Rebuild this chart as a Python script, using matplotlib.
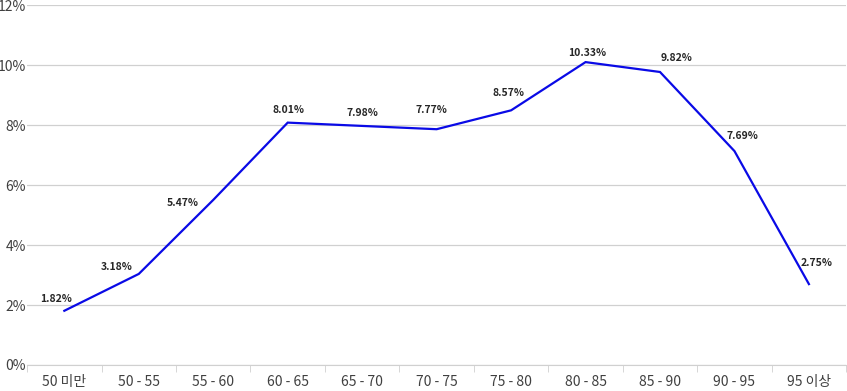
import matplotlib
matplotlib.use('Agg')
import matplotlib.pyplot as plt
import numpy as np
from matplotlib.ticker import FixedLocator

plt.rcParams['font.family'] = ['Noto Sans CJK KR', 'DejaVu Sans']

categories = ['50 미만', '50 - 55', '55 - 60', '60 - 65', '65 - 70', '70 - 75',
              '75 - 80', '80 - 85', '85 - 90', '90 - 95', '95 이상']
# line values as drawn (percent)
values = [1.81, 3.04, 5.51, 8.09, 7.98, 7.87, 8.50, 10.11, 9.78, 7.14, 2.70]
# data label texts as shown
labels = ['1.82%', '3.18%', '5.47%', '8.01%', '7.98%', '7.77%',
          '8.57%', '10.33%', '9.82%', '7.69%', '2.75%']
# label placement relative to point, in pixels
label_offsets = [(-8, 12), (-22, 7), (-31, -3), (1, 13), (0, 13), (-5, 19),
                 (-3, 17), (2, 9), (17, 14), (8, 15), (8, 21)]

fig = plt.figure(figsize=(8.47, 3.91), dpi=100)
ax = fig.add_axes([0.032, 0.0665, 0.967, 0.9195])

x = np.arange(len(categories))
ax.plot(x, values, color='#0a0ae6', lw=1.6, solid_joinstyle='miter')

for xi, yi, t, (dx, dy) in zip(x, values, labels, label_offsets):
    ax.annotate(t, (xi, yi), xytext=(dx * 0.72, dy * 0.72), textcoords='offset points',
                ha='center', va='center', fontsize=7.5, fontweight='bold', color='#262626')

ax.set_xlim(-0.5, len(categories) - 0.5)
ax.set_ylim(0, 12)
ax.set_yticks(np.arange(0, 13, 2))
ax.set_yticklabels([f'{v}%' for v in range(0, 13, 2)])
ax.grid(axis='y', color='#d0d0d0', lw=0.9)
ax.set_axisbelow(True)

ax.set_xticks(x)
ax.set_xticklabels(categories)
ax.xaxis.set_minor_locator(FixedLocator(np.arange(-0.5, len(categories), 1)))
ax.tick_params(axis='x', which='major', length=0, pad=7.5, labelsize=10, labelcolor='#404040')
ax.tick_params(axis='x', which='minor', length=5, color='#d0d0d0')
ax.tick_params(axis='y', length=0, pad=1, labelsize=10, labelcolor='#404040')

for s in ['top', 'right', 'left']:
    ax.spines[s].set_visible(False)
ax.spines['bottom'].set_color('#d0d0d0')

fig.savefig('out.png', dpi=100)
